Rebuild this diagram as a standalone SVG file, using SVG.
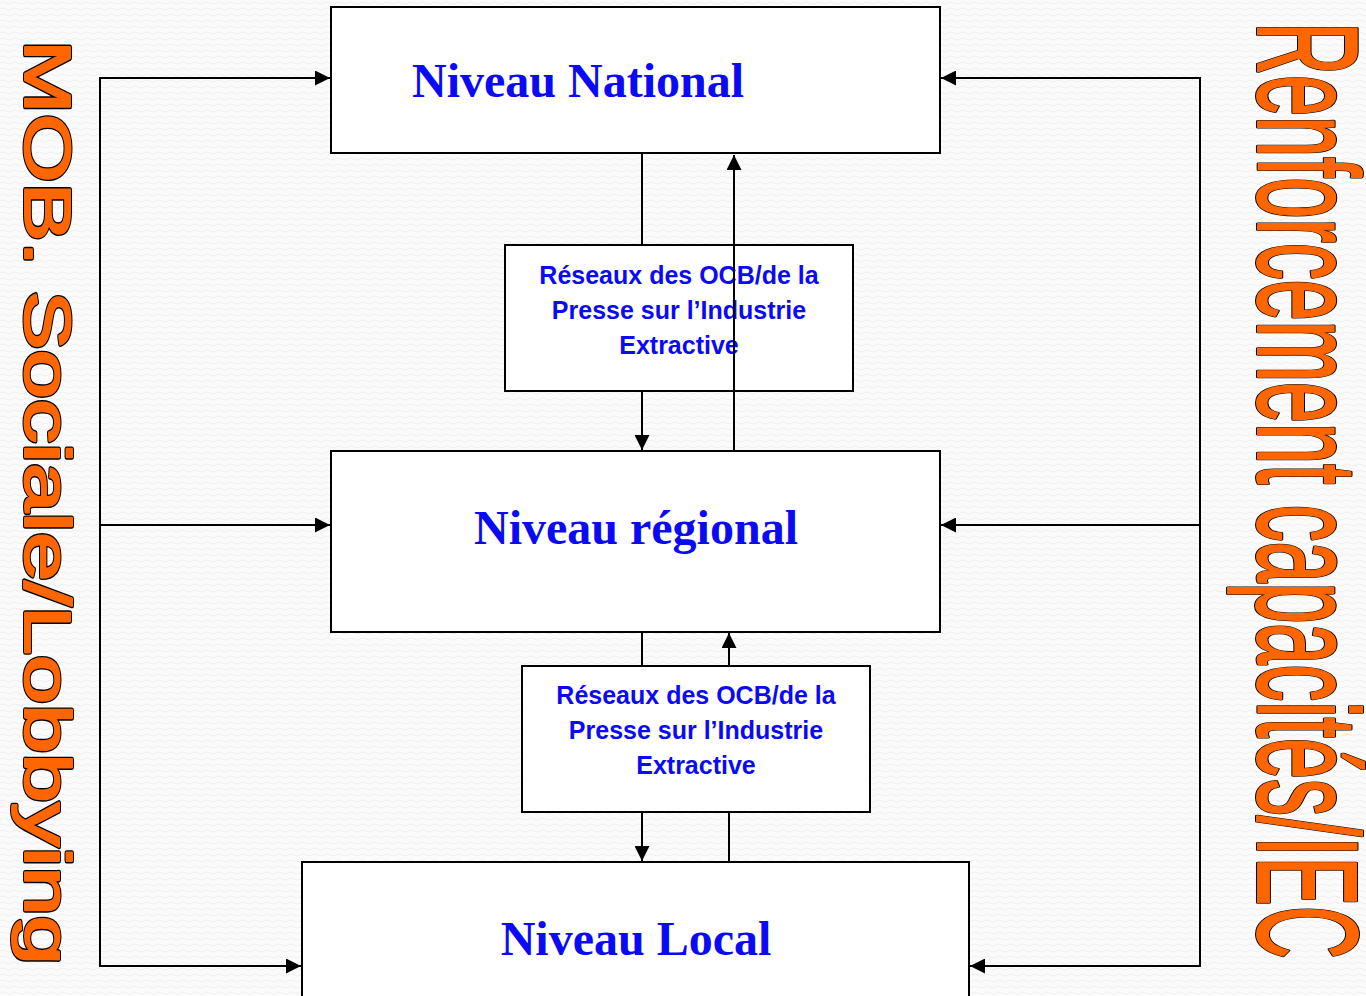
<svg xmlns="http://www.w3.org/2000/svg" width="1366" height="996" viewBox="0 0 1366 996">
<defs>
<pattern id="bgtex" width="12" height="12" patternUnits="userSpaceOnUse">
<rect width="12" height="12" fill="#fbfbfb"/>
<path d="M0 3 Q3 1 6 3 T12 3 M0 9 Q3 7 6 9 T12 9" fill="none" stroke="#efefef" stroke-width="1"/>
</pattern>
<marker id="ah" viewBox="0 0 10 10" refX="10" refY="5" markerWidth="15" markerHeight="15" markerUnits="userSpaceOnUse" orient="auto">
<path d="M0 0 L10 5 L0 10 Z" fill="#000"/>
</marker>
<style>
.box{fill:#fff;stroke:#000;stroke-width:2}
.lvl{font-family:"Liberation Serif","Times New Roman",serif;font-weight:bold;font-size:48px;fill:#0a0af5;text-anchor:middle}
.net{font-family:"Liberation Sans",Arial,sans-serif;font-weight:bold;font-size:25px;fill:#0a0af5;text-anchor:middle}
.side{font-family:"Liberation Sans",Arial,sans-serif}
.sideout{fill:#000;stroke:#000;stroke-width:4;stroke-linejoin:round}
.sidein{fill:#ff6600;stroke:#ff6600;stroke-width:2;stroke-linejoin:round}
.ln{stroke:#000;stroke-width:2;fill:none}
.arr{stroke:#000;stroke-width:2;fill:none;marker-end:url(#ah)}
</style>
</defs>
<rect width="1366" height="996" fill="url(#bgtex)"/>

<g id="side-left">
<text class="side sideout" font-size="65" transform="translate(25,40) rotate(90)" textLength="925" lengthAdjust="spacingAndGlyphs">MOB. Sociale/Lobbying</text>
<text class="side sidein" font-size="65" transform="translate(25,40) rotate(90)" textLength="925" lengthAdjust="spacingAndGlyphs">MOB. Sociale/Lobbying</text>
</g>
<g id="side-right">
<text class="side sideout" font-size="142" transform="translate(1258,22) rotate(90)" textLength="937" lengthAdjust="spacingAndGlyphs">Renforcement capacités/IEC</text>
<text class="side sidein" font-size="142" transform="translate(1258,22) rotate(90)" textLength="937" lengthAdjust="spacingAndGlyphs">Renforcement capacités/IEC</text>
</g>

<g id="national">
<rect class="box" x="331" y="7" width="609" height="146"/>
<text class="lvl" x="578" y="97">Niveau National</text>
</g>
<g id="reseaux1">
<rect class="box" x="505" y="245" width="348" height="146"/>
<text class="net" x="679" y="284">Réseaux des OCB/de la</text>
<text class="net" x="679" y="319">Presse sur l’Industrie</text>
<text class="net" x="679" y="354">Extractive</text>
</g>
<g id="regional">
<rect class="box" x="331" y="451" width="609" height="181"/>
<text class="lvl" x="636" y="544">Niveau régional</text>
</g>
<g id="reseaux2">
<rect class="box" x="522" y="666" width="348" height="146"/>
<text class="net" x="696" y="704">Réseaux des OCB/de la</text>
<text class="net" x="696" y="739">Presse sur l’Industrie</text>
<text class="net" x="696" y="774">Extractive</text>
</g>
<g id="local">
<rect class="box" x="302" y="862" width="667" height="150"/>
<text class="lvl" x="636" y="955">Niveau Local</text>
</g>

<g id="connectors">
<line class="ln" x1="100" y1="77" x2="100" y2="967"/>
<line class="arr" x1="100" y1="78" x2="330" y2="78"/>
<line class="arr" x1="100" y1="525" x2="330" y2="525"/>
<line class="arr" x1="100" y1="966" x2="301" y2="966"/>
<line class="ln" x1="1200" y1="77" x2="1200" y2="967"/>
<line class="arr" x1="1200" y1="78" x2="941" y2="78"/>
<line class="arr" x1="1200" y1="525" x2="941" y2="525"/>
<line class="arr" x1="1200" y1="966" x2="970" y2="966"/>
<line class="ln" x1="642" y1="153" x2="642" y2="245"/>
<line class="arr" x1="642" y1="391" x2="642" y2="450"/>
<line class="arr" x1="734" y1="451" x2="734" y2="155"/>
<line class="ln" x1="642" y1="632" x2="642" y2="666"/>
<line class="arr" x1="642" y1="812" x2="642" y2="861"/>
<line class="ln" x1="729" y1="862" x2="729" y2="812"/>
<line class="arr" x1="729" y1="666" x2="729" y2="633"/>
</g>
</svg>
